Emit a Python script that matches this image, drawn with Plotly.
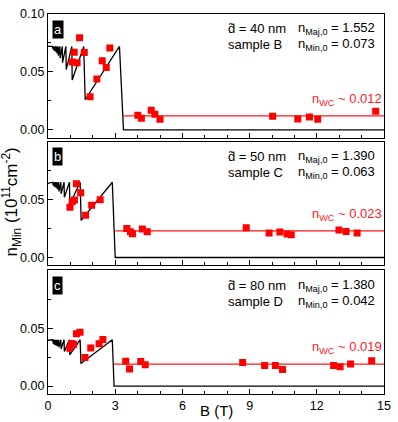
import plotly.graph_objects as go
from plotly.subplots import make_subplots

# theory curves (sawtooth): vertices B (T), n_Min (1e11 cm^-2)
line_b_a = [0, 0.199, 0.202, 0.213, 0.216, 0.228, 0.231, 0.245, 0.249, 0.266, 0.27, 0.29, 0.294,
            0.319, 0.324, 0.354, 0.36, 0.399, 0.405, 0.456, 0.462, 0.532, 0.54, 0.638, 0.648,
            0.798, 0.815, 1.063, 1.08, 1.595, 1.66, 3.19, 3.37, 15]
line_n_a = [0.072, 0.072, 0.071, 0.072, 0.0705, 0.072, 0.070, 0.072, 0.0695, 0.072, 0.069, 0.072, 0.0685,
            0.072, 0.068, 0.072, 0.067, 0.072, 0.066, 0.072, 0.064, 0.072, 0.062, 0.072, 0.058,
            0.072, 0.052, 0.072, 0.043, 0.072, 0.026, 0.072, 0.0, 0.0]

line_b_b = [0, 0.221, 0.224, 0.239, 0.243, 0.261, 0.265, 0.287, 0.291, 0.319, 0.324, 0.359, 0.365,
            0.41, 0.417, 0.478, 0.486, 0.574, 0.584, 0.718, 0.73, 0.957, 0.975, 1.435, 1.48, 2.87, 3.0, 15]
line_n_b = [0.064, 0.065, 0.063, 0.065, 0.0625, 0.065, 0.062, 0.065, 0.0615, 0.065, 0.061, 0.065, 0.060,
            0.065, 0.059, 0.065, 0.057, 0.065, 0.055, 0.065, 0.052, 0.065, 0.046, 0.065, 0.032, 0.065, 0.0, 0.0]

line_b_c = [0, 0.221, 0.224, 0.239, 0.243, 0.261, 0.265, 0.287, 0.291, 0.319, 0.324, 0.359, 0.365,
            0.41, 0.417, 0.478, 0.486, 0.574, 0.584, 0.718, 0.73, 0.957, 0.97, 1.435, 1.47, 2.87, 2.95, 15]
line_n_c = [0.0396, 0.040, 0.0375, 0.040, 0.037, 0.040, 0.0365, 0.040, 0.036, 0.040, 0.0355, 0.040, 0.035,
            0.040, 0.0345, 0.040, 0.0335, 0.040, 0.032, 0.040, 0.030, 0.040, 0.027, 0.040, 0.0195, 0.040, 0.0, 0.0]

# measured points
pts_b_a = [1.08, 1.17, 1.30, 1.41, 1.62, 1.88, 2.18, 2.42, 2.60, 2.76,
           4.01, 4.17, 4.61, 4.77, 5.0, 10.03, 11.15, 11.67, 12.04, 14.63]
pts_n_a = [0.0585, 0.067, 0.058, 0.0794, 0.0668, 0.0285, 0.044, 0.0597, 0.0538, 0.0706,
           0.0126, 0.010, 0.0169, 0.0134, 0.0092, 0.0117, 0.0094, 0.0111, 0.0092, 0.016]

pts_b_b = [0.98, 1.08, 1.18, 1.27, 1.46, 1.68, 1.95, 2.33,
           3.52, 3.68, 3.77, 4.21, 4.43, 8.85, 9.87, 10.35, 10.67, 10.86, 12.99, 13.31, 13.8]
pts_n_b = [0.0434, 0.0482, 0.0497, 0.0636, 0.0559, 0.0365, 0.0451, 0.0499,
           0.025, 0.0223, 0.0206, 0.0246, 0.0223, 0.0257, 0.0211, 0.022, 0.0203, 0.0197, 0.0237, 0.0225, 0.0211]

pts_b_c = [0.97, 1.05, 1.14, 1.27, 1.43, 1.65, 1.91, 2.28, 2.45,
           3.47, 3.64, 4.14, 4.34, 8.69, 9.67, 10.15, 10.47, 12.75, 13.04, 13.51, 14.45]
pts_n_c = [0.0326, 0.0368, 0.0362, 0.0452, 0.0464, 0.0248, 0.033, 0.0365, 0.0402,
           0.0215, 0.0147, 0.0212, 0.0184, 0.0204, 0.0178, 0.0178, 0.0144, 0.0178, 0.0167, 0.019, 0.0218]

nwc = [0.012, 0.023, 0.019]
nwc_start = [3.37, 3.0, 2.93]
labels = ["a", "b", "c"]
d_nm = [40, 50, 80]
samples = ["B", "C", "D"]
n_maj0 = ["1.552", "1.390", "1.380"]
n_min0 = ["0.073", "0.063", "0.042"]

FONT = "Liberation Sans, Arial, sans-serif"

fig = make_subplots(rows=3, cols=1, shared_xaxes=True)

lines = [(line_b_a, line_n_a), (line_b_b, line_n_b), (line_b_c, line_n_c)]
pts = [(pts_b_a, pts_n_a), (pts_b_b, pts_n_b), (pts_b_c, pts_n_c)]

for i in range(3):
    r = i + 1
    fig.add_trace(go.Scatter(x=lines[i][0], y=lines[i][1], mode="lines",
                             line=dict(color="black", width=1.3), showlegend=False), row=r, col=1)
    fig.add_trace(go.Scatter(x=[nwc_start[i], 15], y=[nwc[i], nwc[i]], mode="lines",
                             line=dict(color="#ff1a1a", width=1.3), showlegend=False), row=r, col=1)
    fig.add_trace(go.Scatter(x=pts[i][0], y=pts[i][1], mode="markers",
                             marker=dict(symbol="square", size=7, color="#ff0000"),
                             showlegend=False), row=r, col=1)

    xs = "x" if r == 1 else f"x{r}"
    ys = "y" if r == 1 else f"y{r}"
    fig.add_annotation(xref=xs + " domain", yref=ys + " domain", x=0.013, y=0.955,
                       xanchor="left", yanchor="top", text=labels[i], showarrow=False,
                       bgcolor="black", font=dict(color="white", size=13, family=FONT),
                       borderpad=1)
    fig.add_annotation(xref=xs + " domain", yref=ys + " domain", x=0.531, y=0.88,
                       xanchor="left", yanchor="middle", showarrow=False,
                       text=f"d\u0303 = {d_nm[i]} nm", font=dict(size=13, family=FONT, color="black"))
    fig.add_annotation(xref=xs + " domain", yref=ys + " domain", x=0.531, y=0.75,
                       xanchor="left", yanchor="middle", showarrow=False,
                       text=f"sample {samples[i]}", font=dict(size=13, family=FONT, color="black"))
    fig.add_annotation(xref=xs + " domain", yref=ys + " domain", x=0.98, y=0.88,
                       xanchor="right", yanchor="middle", showarrow=False,
                       text=f"n<sub>Maj,0</sub> = {n_maj0[i]}", font=dict(size=13, family=FONT, color="black"))
    fig.add_annotation(xref=xs + " domain", yref=ys + " domain", x=0.98, y=0.75,
                       xanchor="right", yanchor="middle", showarrow=False,
                       text=f"n<sub>Min,0</sub> = {n_min0[i]}", font=dict(size=13, family=FONT, color="black"))
    fig.add_annotation(xref=xs + " domain", yref=ys, x=1.0, y=nwc[i],
                       xanchor="right", yanchor="bottom", yshift=6, showarrow=False,
                       text=f"n<sub>WC</sub> ~ {nwc[i]:.3f}", font=dict(size=13, family=FONT, color="#ff1a1a"))

    fig.update_yaxes(range=[-0.0068, 0.1],
                     tickvals=[0, 0.05, 0.1] if r == 1 else [0, 0.05],
                     tickformat=".2f", ticks="inside", ticklen=5, tickwidth=1, tickcolor="black",
                     minor=dict(tickvals=[0.025, 0.075], ticks="inside", ticklen=3, tickcolor="black"),
                     showline=True, linecolor="black", linewidth=1.3, mirror=True,
                     showgrid=False, zeroline=False, row=r, col=1)
    fig.update_xaxes(range=[0, 15], dtick=3, tick0=0, ticks="inside", ticklen=5, tickwidth=1,
                     tickcolor="black",
                     minor=dict(dtick=1, ticks="inside", ticklen=3, tickcolor="black"),
                     showline=True, linecolor="black", linewidth=1.3, mirror=True,
                     showgrid=False, zeroline=False, showticklabels=(r == 3), row=r, col=1)

fig.update_layout(
    yaxis=dict(domain=[0.6744, 1.0]),
    yaxis2=dict(domain=[0.3385, 0.664]),
    yaxis3=dict(domain=[0.0, 0.3256]),
)

fig.add_annotation(xref="paper", yref="paper", x=-0.087, y=0.506, xanchor="center", yanchor="middle",
                   xshift=-7, textangle=-90, showarrow=False,
                   text="n<sub>Min</sub> (10<sup>11</sup>cm<sup>-2</sup>)",
                   font=dict(size=17, family=FONT, color="black"))
fig.add_annotation(xref="paper", yref="paper", x=0.5, y=-0.044, xanchor="center", yanchor="middle",
                   text="B (T)", showarrow=False, font=dict(size=15, family=FONT, color="black"))

fig.update_layout(
    width=398, height=422,
    margin=dict(l=48, r=7, t=7, b=28),
    plot_bgcolor="white", paper_bgcolor="white",
    font=dict(family=FONT, size=12.5, color="black"),
)

fig.write_html("out.html", config={"displayModeBar": False},
               post_script="document.body.style.margin='0';")
